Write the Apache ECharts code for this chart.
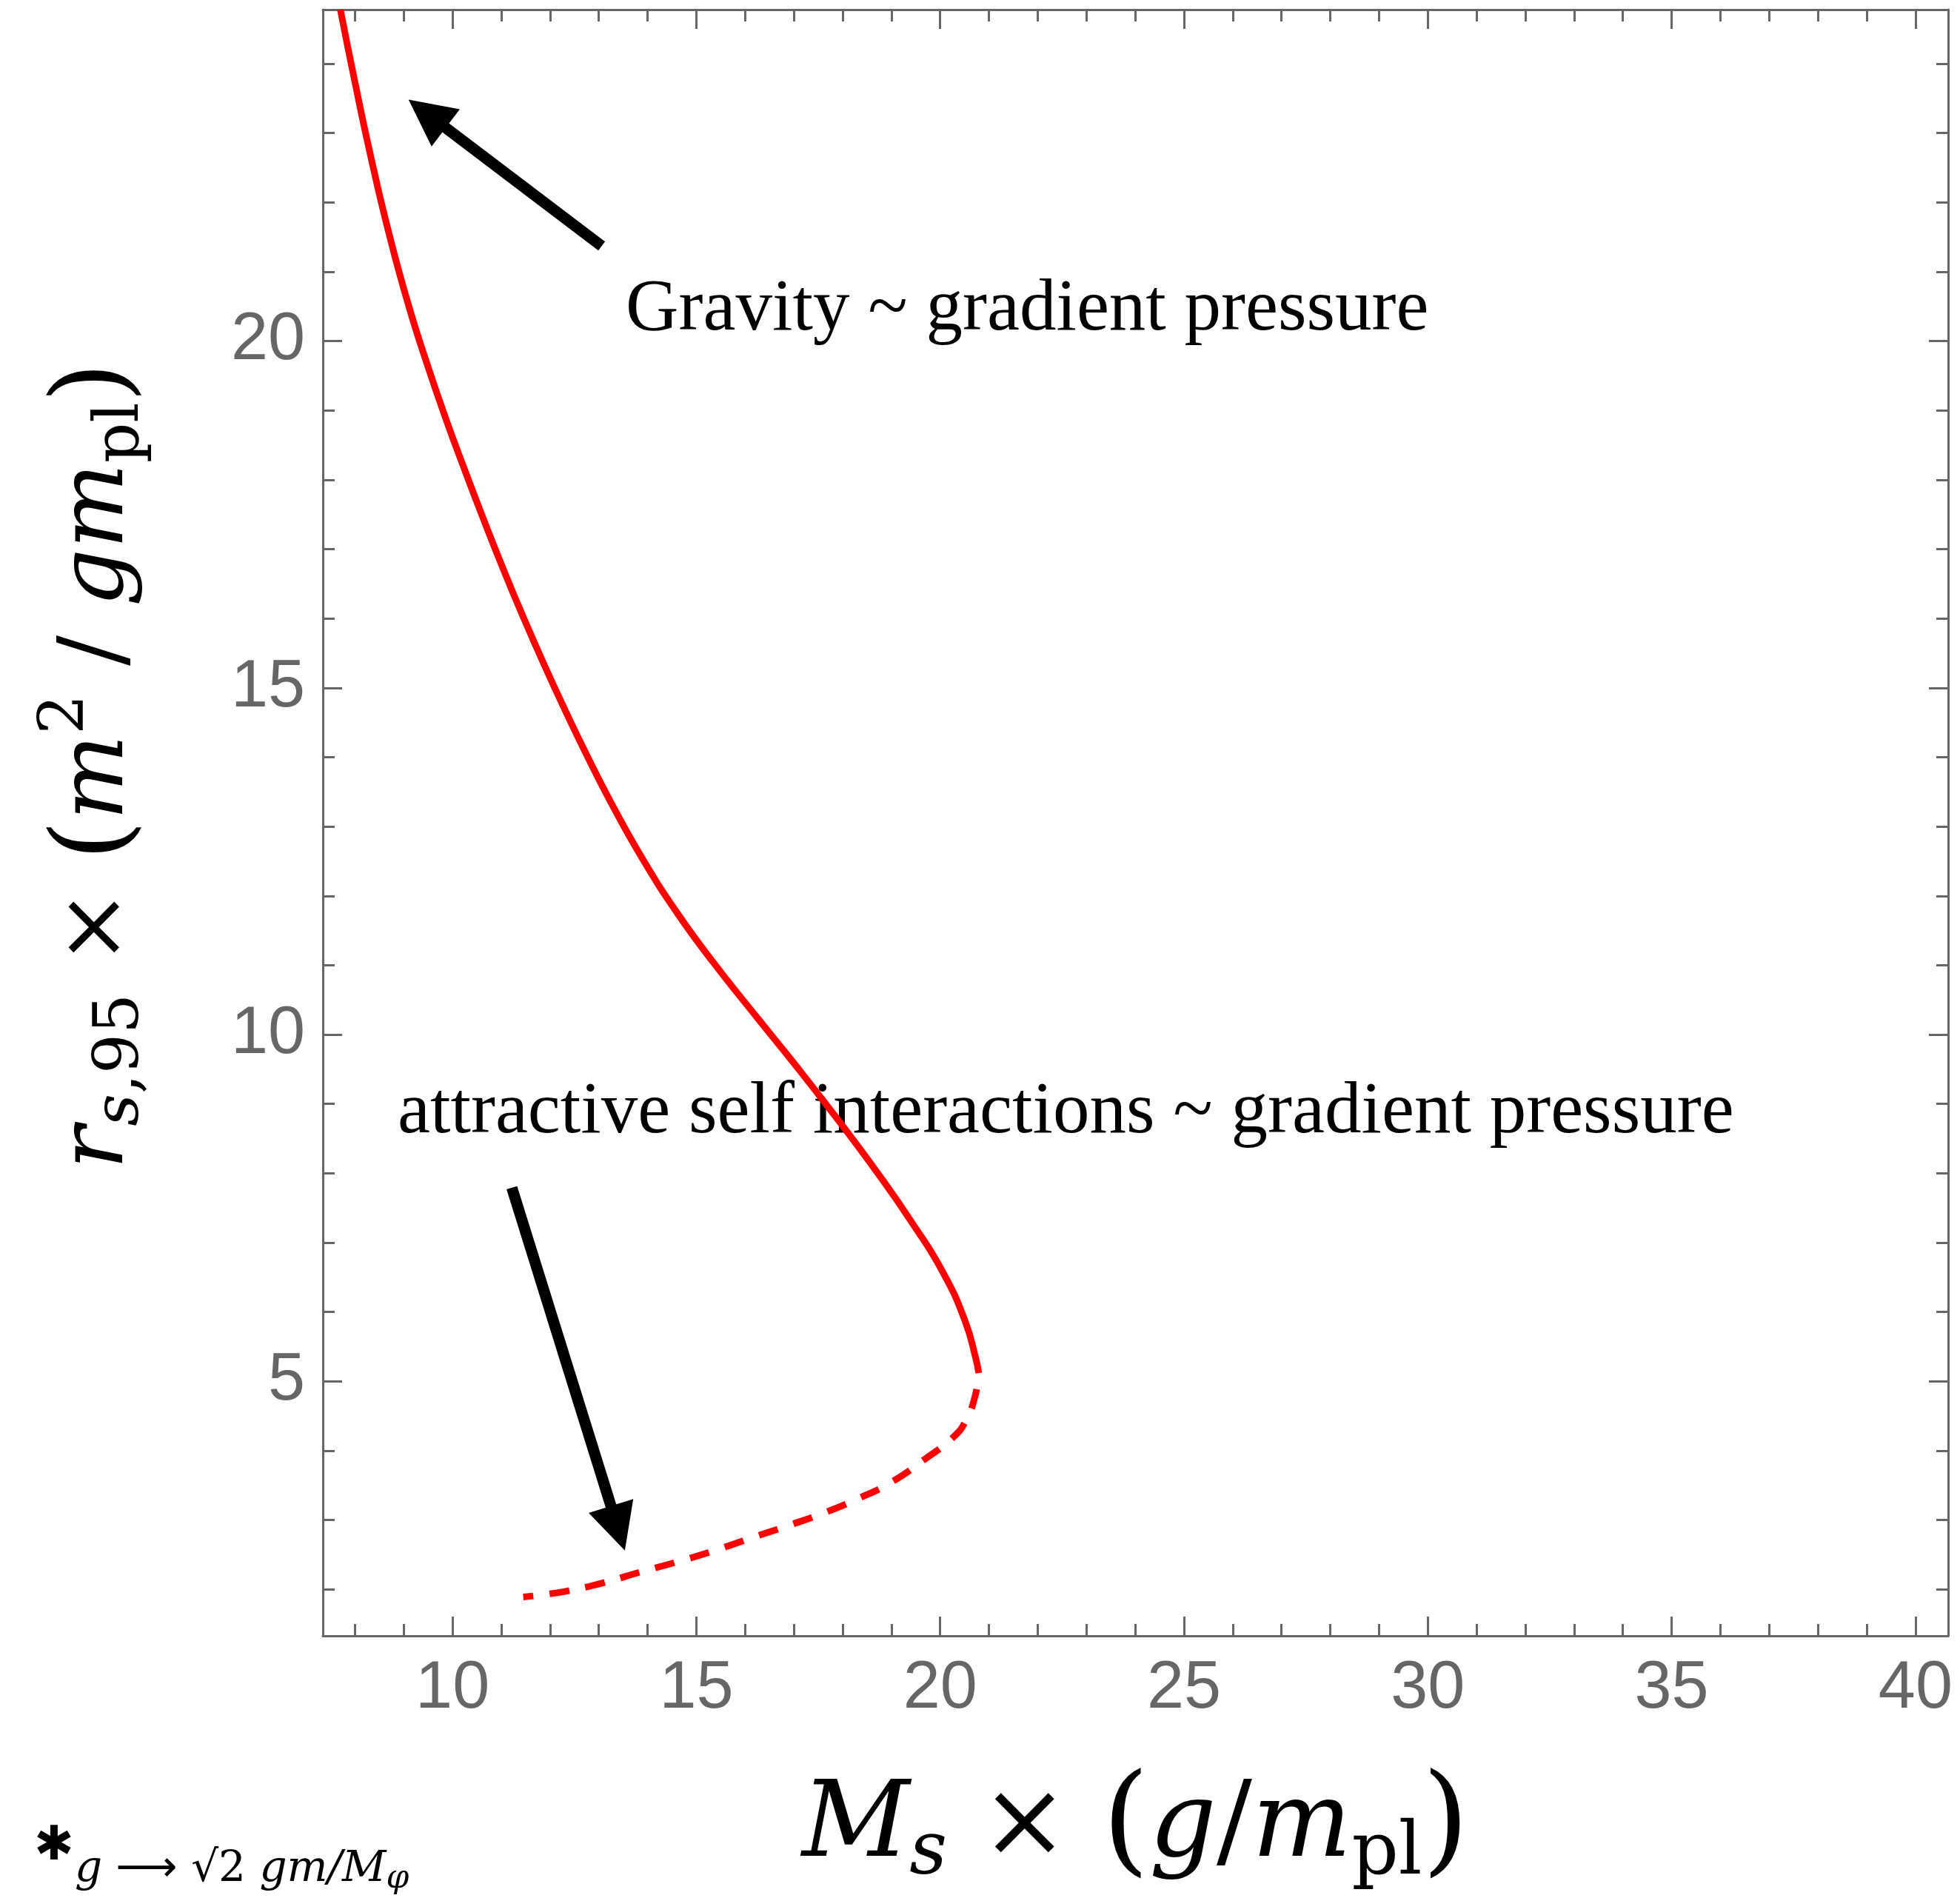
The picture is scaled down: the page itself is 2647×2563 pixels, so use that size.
<!DOCTYPE html>
<html>
<head>
<meta charset="utf-8">
<script src="https://cdn.jsdelivr.net/npm/echarts@6/dist/echarts.min.js"></script>
<style>
  html, body { margin: 0; padding: 0; background: #fff; }
  #chart { width: 2647px; height: 2563px; }
</style>
</head>
<body>
<div id="chart"></div>
<script>
const solidM = [7.70, 8.005, 8.33, 8.69, 9.10, 9.52, 9.87, 10.245, 10.63, 11.03, 11.45, 11.90, 12.32, 12.76,
  13.25, 13.90, 14.62, 15.36, 16.24, 17.06, 17.85, 18.72, 19.42, 20.05, 20.51, 20.73, 20.79];
const solidR = [24.78, 23.71, 22.64, 21.57, 20.51, 19.58, 18.865, 18.15, 17.44, 16.73, 16.02, 15.30, 14.66, 14.02,
  13.345, 12.53, 11.74, 11.03, 10.25, 9.535, 8.82, 8.0, 7.29, 6.58, 5.87, 5.33, 5.12];

// unstable branch (dashed)
const dashM = [20.79, 20.72, 20.53, 20.26, 19.67, 19.01, 18.29, 17.565, 16.84, 16.08, 15.33, 14.60, 13.85, 13.06, 12.30, 11.45];
const dashR = [5.12, 4.80, 4.44, 4.19, 3.87, 3.55, 3.30, 3.09, 2.91, 2.73, 2.55, 2.395, 2.25, 2.09, 1.97, 1.89];

// axis ranges and labelled ticks
const xRange = [7.34, 40.67];
const yRange = [1.33, 24.78];
const xTicks = [10, 15, 20, 25, 30, 35, 40];
const yTicks = [5, 10, 15, 20];

// annotation arrows, [tail, head] in data units
const gravityArrow = [[13.058, 21.37], [9.478, 23.279]];
const selfArrow = [[11.216, 7.792], [13.391, 2.881]];

const solidData = solidM.map((m, i) => [m, solidR[i]]);
const dashData = dashM.map((m, i) => [m, dashR[i]]);

const chart = echarts.init(document.getElementById('chart'));

const gray = '#666666';
const serif = 'Liberation Serif';
const math = 'DejaVu Serif';

function frameAxis(pos, range, labels, isMain) {
  return {
    type: 'value',
    position: pos,
    min: range[0],
    max: range[1],
    splitLine: { show: false },
    axisLine: { show: true, onZero: false, lineStyle: { color: gray, width: 3 } },
    axisTick: { show: true, inside: true, length: 26, lineStyle: { color: gray, width: 3 } },
    minorTick: { show: true, splitNumber: 5, length: 16, lineStyle: { color: gray, width: 3 } },
    axisLabel: isMain ? {
      show: true,
      customValues: labels,
      color: gray,
      fontFamily: 'Liberation Sans',
      fontSize: 90,
      margin: (pos === 'bottom') ? 27 : 24
    } : { show: false }
  };
}

// rich styles for the math-like axis titles
function mathRich(size, subShift, supShift) {
  const small = Math.round(size * 0.7);
  return {
    i: { fontFamily: math, fontStyle: 'italic', fontSize: size, lineHeight: 200, color: '#000' },
    n: { fontFamily: math, fontSize: size, lineHeight: 200, color: '#000' },
    p: { fontFamily: math, fontSize: Math.round(size * 1.15), lineHeight: 200, color: '#000' },
    sb: { fontFamily: math, fontStyle: 'italic', fontSize: small, lineHeight: 200, padding: [subShift, 0, 0, 0], color: '#000' },
    sbr: { fontFamily: math, fontSize: small, lineHeight: 200, padding: [subShift, 0, 0, 0], color: '#000' },
    sp: { fontFamily: math, fontSize: small, lineHeight: 200, padding: [0, 0, supShift, 0], color: '#000' }
  };
}

const xMain = frameAxis('bottom', xRange, xTicks, true);
xMain.name = '{i|M}{sb|s}{n| × }{p|(}{i|g}{n|/}{i|m}{sbr|pl}{p|)}';
xMain.nameLocation = 'middle';
xMain.nameGap = 160;
xMain.nameTextStyle = { fontFamily: math, color: '#000', rich: mathRich(142, 70, 0) };

const yMain = frameAxis('left', yRange, yTicks, true);
yMain.name = '{i|r}{sb|s}{sbr|,95}{n| × }{p|(}{i|m}{sp|2}{n| / }{i|gm}{sbr|pl}{p|)}';
yMain.nameLocation = 'middle';
yMain.nameGap = 203;
yMain.nameTextStyle = { fontFamily: math, color: '#000', padding: [0, 0, 0, 154], rich: mathRich(122, 62, 86) };

const option = {
  backgroundColor: '#ffffff',
  animation: false,
  grid: { left: 436, right: 16, top: 13, bottom: 354, containLabel: false },
  xAxis: [xMain, frameAxis('top', xRange, xTicks, false)],
  yAxis: [yMain, frameAxis('right', yRange, yTicks, false)],
  series: [
    {
      name: 'stable',
      type: 'line',
      xAxisIndex: 0,
      yAxisIndex: 0,
      data: solidData,
      showSymbol: false,
      smooth: 0.5,
      lineStyle: { color: '#ff0000', width: 9, type: 'solid' },
      emphasis: { disabled: true },
      markLine: {
        silent: true,
        animation: false,
        symbol: ['none', 'triangle'],
        symbolSize: [63, 63],
        label: { show: false },
        emphasis: { disabled: true },
        lineStyle: { color: '#000000', width: 15, type: 'solid' },
        data: [
          [{ coord: gravityArrow[0] }, { coord: gravityArrow[1] }],
          [{ coord: selfArrow[0] }, { coord: selfArrow[1] }]
        ]
      }
    },
    {
      name: 'unstable',
      type: 'line',
      xAxisIndex: 0,
      yAxisIndex: 0,
      data: dashData,
      showSymbol: false,
      smooth: 0.5,
      lineStyle: { color: '#ff0000', width: 9, type: [27, 22], dashOffset: 27 },
      emphasis: { disabled: true }
    }
  ],
  graphic: [
    {
      type: 'text',
      left: 845,
      top: 369,
      silent: true,
      style: { text: 'Gravity ~ gradient pressure', fontFamily: serif, fontSize: 99, fill: '#000' }
    },
    {
      type: 'text',
      left: 537,
      top: 1453,
      silent: true,
      style: { text: 'attractive self interactions ~ gradient pressure', fontFamily: serif, fontSize: 99, fill: '#000' }
    },
    {
      type: 'text',
      left: 46,
      top: 2462,
      silent: true,
      style: { text: '✱', fontFamily: 'DejaVu Sans', fontSize: 64, fill: '#000' }
    },
    {
      type: 'text',
      left: 101,
      top: 2490,
      silent: true,
      style: {
        text: '{i|g}{a| ⟶ }{n|√2 }{i|gm/M}{s|φ}',
        rich: {
          i: { fontFamily: math, fontStyle: 'italic', fontSize: 58, lineHeight: 70, fill: '#000' },
          n: { fontFamily: math, fontSize: 58, lineHeight: 70, fill: '#000' },
          a: { fontFamily: 'DejaVu Sans', fontSize: 58, lineHeight: 70, fill: '#000' },
          s: { fontFamily: math, fontStyle: 'italic', fontSize: 44, lineHeight: 70, padding: [26, 0, 0, 0], fill: '#000' }
        }
      }
    }
  ]
};

chart.setOption(option);
</script>
</body>
</html>
